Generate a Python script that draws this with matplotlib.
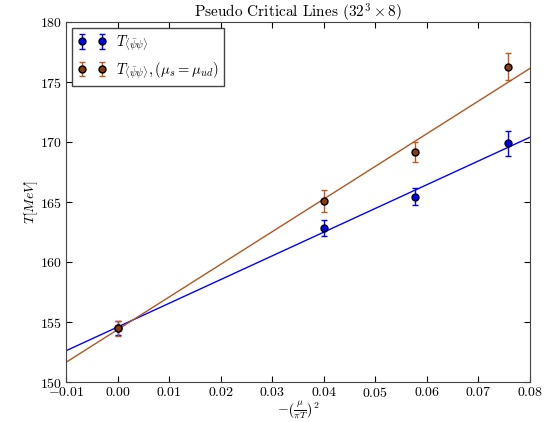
import numpy as np
import matplotlib
matplotlib.use("Agg")
import matplotlib.pyplot as plt

plt.rcParams['font.family'] = 'serif'
plt.rcParams['font.serif'] = ['cmr10']
plt.rcParams['mathtext.fontset'] = 'cm'
plt.rcParams['axes.formatter.use_mathtext'] = True
plt.rcParams['axes.unicode_minus'] = True

# data
x_ud = [0.0, 0.0401, 0.0577, 0.0758]
T_ud = [154.5, 162.83, 165.44, 169.89]
err_ud = [0.62, 0.63, 0.70, 1.05]

x_s = [0.0, 0.0401, 0.0577, 0.0758]
T_s = [154.47, 165.08, 169.17, 176.28]
err_s = [0.64, 0.95, 0.86, 1.10]

# fit lines (slope, intercept)
fit_ud = [197.7, 154.58]
fit_s = [272.2, 154.36]

xticks = [-0.01, 0.0, 0.01, 0.02, 0.03, 0.04, 0.05, 0.06, 0.07, 0.08]
yticks = [150, 155, 160, 165, 170, 175, 180]

blue = '#0000ff'
orange_line = '#b4561c'
orange_face = '#8b3a0e'
orange_err = '#c0571c'

fig = plt.figure(figsize=(5.49, 4.22), dpi=100)
ax = fig.add_axes([66/549, 1-382/422, (530-66)/549, (382-22)/422])

xl = np.array([-0.01, 0.08])
ax.plot(xl, fit_ud[0]*xl + fit_ud[1], color=blue, lw=1.0, zorder=1)
ax.plot(xl, fit_s[0]*xl + fit_s[1], color=orange_line, lw=1.0, zorder=1)

ax.errorbar(x_ud, T_ud, yerr=err_ud, fmt='o', color=blue, ecolor=blue,
            mfc=blue, mec='black', ms=5, capsize=2.5, elinewidth=1,
            label=r'$T_{\langle\bar{\psi}\psi\rangle}$', zorder=3)
ax.errorbar(x_s, T_s, yerr=err_s, fmt='o', color=orange_err, ecolor=orange_err,
            mfc=orange_face, mec='black', ms=5, capsize=2.5, elinewidth=1,
            label=r'$T_{\langle\bar{\psi}\psi\rangle}, (\mu_s = \mu_{ud})$', zorder=3)

ax.set_xlim(-0.01, 0.08)
ax.set_ylim(150, 180)
ax.set_xticks(xticks)
ax.set_yticks(yticks)
ax.set_xticklabels([r'$%.2f$' % v for v in xticks])
ax.tick_params(direction='in', top=True, right=True, length=4, labelsize=10, pad=3)
for s in ax.spines.values():
    s.set_color('#444444')

ax.set_title(r'Pseudo Critical Lines ($32^3 \times 8$)', fontsize=11, pad=3)
ax.set_ylabel(r'$T[MeV]$', fontsize=10, labelpad=0)
ax.set_xlabel(r'$-\left(\frac{\mu}{\pi T}\right)^2$', fontsize=10, labelpad=0)

leg = ax.legend(loc='upper left', numpoints=2, fancybox=False, framealpha=1,
                edgecolor='#444444', fontsize=10.5, borderaxespad=0.4,
                handletextpad=0.6, handlelength=2.0)
leg.get_frame().set_linewidth(1.0)

fig.savefig('out.png', dpi=100)
